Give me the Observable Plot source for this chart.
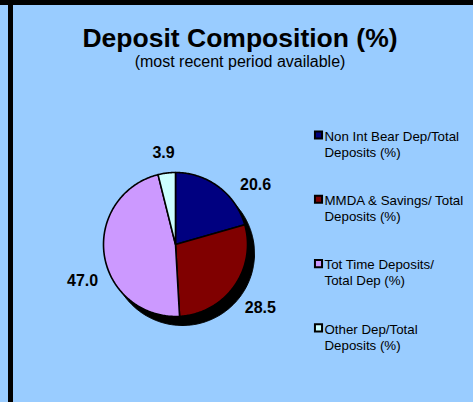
<!DOCTYPE html>
<html><head><meta charset="utf-8">
<script src="https://cdn.jsdelivr.net/npm/d3@7"></script>
<script src="https://cdn.jsdelivr.net/npm/@observablehq/plot@0.6"></script>
<style>
html,body{margin:0;padding:0;background:#99CCFF;}
#wrap{position:relative;width:473px;height:402px;overflow:hidden;background:#99CCFF;}
#wrap svg{position:absolute;left:0;top:0;}
.bt{position:absolute;left:0;top:0;width:473px;height:5px;background:#000;z-index:2;}
.bl{position:absolute;left:8px;top:0;width:5px;height:402px;background:#000;z-index:2;}
</style></head><body>
<div id="wrap"><div class="bt"></div><div class="bl"></div></div>
<script>
const title = "Deposit Composition (%)";
const subtitle = "(most recent period available)";
const categories = [
  "Non Int Bear Dep/Total\nDeposits (%)",
  "MMDA & Savings/ Total\nDeposits (%)",
  "Tot Time Deposits/\nTotal Dep (%)",
  "Other Dep/Total\nDeposits (%)"
];
const values = [20.6, 28.5, 47.0, 3.9];
const valueLabels = ["20.6", "28.5", "47.0", "3.9"];
const colors = ["#000080", "#800000", "#CC99FF", "#CCFFFF"];

// layout (not data): pie geometry, label offsets and legend placement
const W = 473, H = 402;
const cx = 175, cy = 244, R = 72;
const shadowDx = 7, shadowDy = 9;
const labelDist = 98;
const labelNudge = [[21, 19], [5, 6.5], [4, 21.5], [0, 6]];
const legendX = 318, legendTextX = 324, legendY0 = 129, legendStep = 64.3;
const font = "'Liberation Sans', Arial, Helvetica, sans-serif";

const arcs = d3.pie().sort(null)(values);
const pt = (a, r, ox = 0, oy = 0) => [cx + ox + r * Math.sin(a), cy + oy - r * Math.cos(a)];

function sector(a0, a1, ox = 0, oy = 0, full = false) {
  const n = Math.max(6, Math.ceil((a1 - a0) / 0.015));
  const ring = [];
  if (!full) ring.push([cx + ox, cy + oy]);
  for (let k = 0; k <= n; k++) ring.push(pt(a0 + (a1 - a0) * k / n, R, ox, oy));
  if (!full) ring.push([cx + ox, cy + oy]);
  else ring.push(ring[0]);
  return ring;
}

const slices = arcs.map((a, i) => ({
  type: "Feature",
  properties: {cat: categories[i]},
  geometry: {type: "Polygon", coordinates: [sector(a.startAngle, a.endAngle)]}
}));
const shadow = [{
  type: "Feature", properties: {},
  geometry: {type: "Polygon", coordinates: [sector(0, 2 * Math.PI, shadowDx, shadowDy, true)]}
}];
const labels = arcs.map((a, i) => {
  const m = (a.startAngle + a.endAngle) / 2;
  const [x, y] = pt(m, labelDist);
  return {x: x + labelNudge[i][0], y: y + labelNudge[i][1], text: valueLabels[i]};
});
const legend = categories.map((c, i) => ({cat: c, x: legendX, tx: legendTextX, y: legendY0 + i * legendStep}));

const chart = Plot.plot({
  width: W, height: H, margin: 0,
  projection: {type: "identity"},
  style: {background: "transparent", fontFamily: font},
  color: {domain: categories, range: colors},
  marks: [
    Plot.geo(shadow, {fill: "#000", stroke: "#000", strokeWidth: 1}),
    Plot.geo(slices, {fill: d => d.properties.cat, stroke: "#000", strokeWidth: 1.6, strokeLinejoin: "round"}),
    Plot.text(labels, {x: "x", y: "y", text: "text", fontSize: 16, fontWeight: "bold", fill: "#000", textAnchor: "middle", lineAnchor: "middle"}),
    Plot.text([title], {text: d => d, frameAnchor: "top", dx: 3, dy: 46, lineAnchor: "bottom", fontSize: 26.5, fontWeight: "bold", fill: "#000"}),
    Plot.text([subtitle], {text: d => d, frameAnchor: "top", dx: 3, dy: 66.5, lineAnchor: "bottom", fontSize: 16, fill: "#000"}),
    Plot.dot(legend, {x: "x", y: d => d.y + 5.5, symbol: "square", r: 4, fill: "cat", stroke: "#000", strokeWidth: 2}),
    Plot.text(legend, {x: "tx", y: "y", text: "cat", textAnchor: "start", lineAnchor: "top", lineHeight: 1.2, fontSize: 13.3, fill: "#000"})
  ]
});
document.getElementById("wrap").appendChild(chart);
</script>
</body></html>
